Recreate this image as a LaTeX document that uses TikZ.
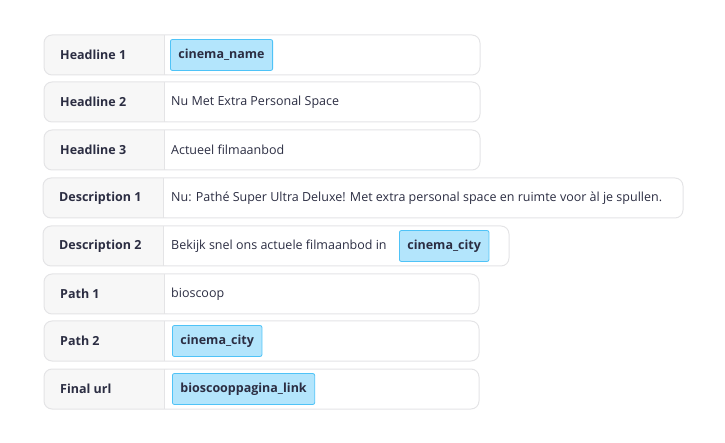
\documentclass[tikz,border=0pt]{standalone}
\usepackage{fontspec}
\setmainfont{Open Sans}
\definecolor{txt}{HTML}{2B2D42}
\definecolor{lbg}{HTML}{F7F7F7}
\definecolor{bd}{HTML}{E4E4E6}
\definecolor{chipf}{HTML}{B3E5FC}
\definecolor{chipb}{HTML}{4FC3F7}
\begin{document}
\begin{tikzpicture}[x=1pt,y=-1pt,
  lab/.style={anchor=west,text=txt,font=\fontsize{12.5}{14}\selectfont\bfseries,inner sep=0},
  val/.style={anchor=west,text=txt,font=\fontsize{12.5}{14}\selectfont,inner sep=0},
  chip/.style={anchor=west,text=txt,font=\fontsize{12.5}{14}\selectfont\bfseries,fill=chipf,draw=chipb,line width=0.8pt,rounded corners=2pt,minimum height=31pt,inner xsep=8pt}]
\useasboundingbox (0,0) rectangle (725,443);
\newcommand{\rowbox}[5]{% left, top, right, divider, name
  \fill[lbg,rounded corners=8pt] (#1,#2) rectangle (#4+8,#2+40);
  \fill[white] (#4,#2+0.5) rectangle (#4+9,#2+39.5);
  \draw[bd,line width=1pt,rounded corners=8pt] (#1,#2) rectangle (#3,#2+40);
  \draw[bd,line width=1pt] (#4,#2) -- (#4,#2+40);
  \coordinate (#5) at (#1,#2+20);}
\rowbox{44}{35}{480}{164}{r1}
\rowbox{44}{82}{480}{164}{r2}
\rowbox{44}{130}{480}{164}{r3}
\rowbox{43}{178}{683}{163}{r4}
\rowbox{43}{226}{509}{163}{r5}
\rowbox{44}{274}{479}{164}{r6}
\rowbox{44}{321}{479}{164}{r7}
\rowbox{44}{369}{479}{164}{r8}
\node[lab] (l1) at (60,55) {Headline 1};
\node[lab] (l2) at (60,102) {Headline 2};
\node[lab] (l3) at (60,150) {Headline 3};
\node[lab] (l4) at (59,198) {Description 1};
\node[lab] (l5) at (59,246) {Description 2};
\node[lab] (l6) at (60,294) {Path 1};
\node[lab] (l7) at (60,341) {Path 2};
\node[lab] (l8) at (60,389) {Final url};
\node[chip] (c1) at (170,55) {cinema\_name};
\node[val] (v2) at (171,102) {Nu Met Extra Personal Space};
\node[val] (v3) at (171,150) {Actueel filmaanbod};
\node[val] (v4) at (171,198) {Nu: Pathé Super Ultra Deluxe! Met extra personal space en ruimte voor àl je spullen.};
\node[val] (v5) at (171,246) {Bekijk snel ons actuele filmaanbod in};
\node[chip] (c5) at (399,246) {cinema\_city};
\node[val] (v6) at (171,294) {bioscoop};
\node[chip] (c7) at (172,341) {cinema\_city};
\node[chip] (c8) at (172,389) {bioscooppagina\_link};
\end{tikzpicture}
\end{document}
